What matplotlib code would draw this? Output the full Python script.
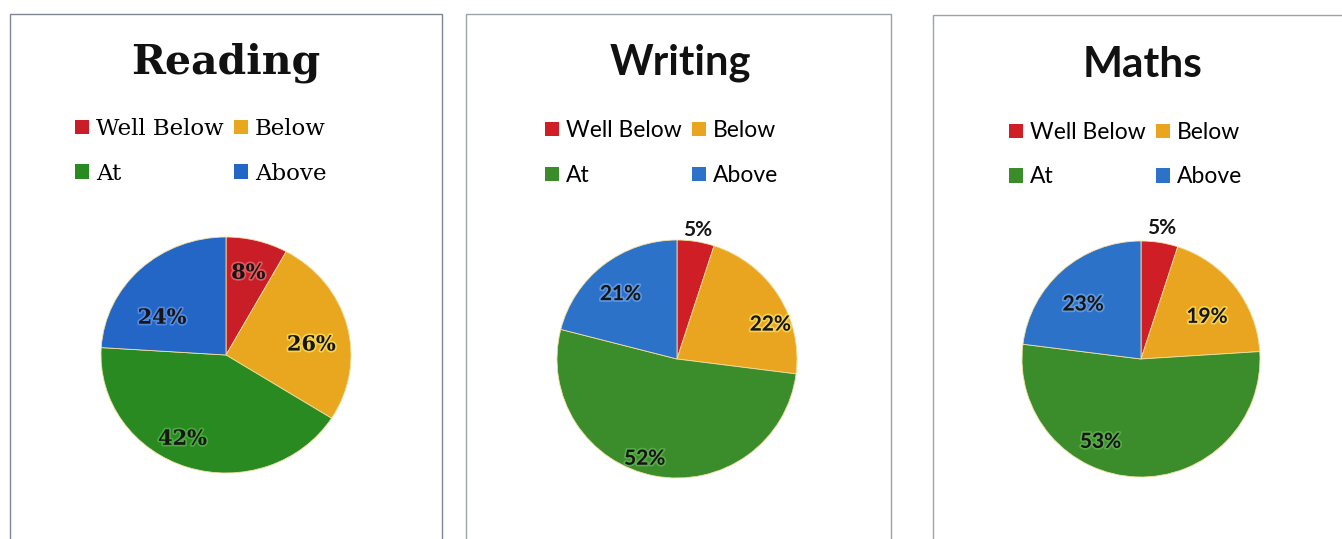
import matplotlib
matplotlib.use("Agg")
import matplotlib.pyplot as plt
from matplotlib.patches import Rectangle
import matplotlib.patheffects as pe
import numpy as np

# ---- data ----
categories = ["Well Below", "Below", "At", "Above"]
subjects = ["Reading", "Writing", "Maths"]
reading_values = [8, 26, 42, 24]
writing_values = [5, 22, 52, 21]
maths_values = [5, 19, 53, 23]

W, H = 1342, 539
fig = plt.figure(figsize=(W / 100, H / 100), dpi=100)
fig.patch.set_facecolor("white")

def fx(px):
    return px / W

def fy(py):
    return 1 - py / H

reading_colors = ["#C91D27", "#E9A61F", "#2A8A22", "#2466C6"]
other_colors = ["#D01E26", "#EAA520", "#3A8D2A", "#2C72C8"]
halo_reading = ["#F08080", "#FFF06A", "#5FBF50", "#6FA0F0"]
halo_other = ["#F08080", "#FFF06A", "#6FC060", "#7FB0F0"]

# label placement (style): radius fraction and angular nudge in degrees, per slice
panels = [
    dict(title=subjects[0], values=reading_values, colors=reading_colors, halo=halo_reading,
         family="DejaVu Serif", title_size=29.5, leg_size=16.5, lab_size=15,
         box=(10, 14, 442), center=(226, 355), r=(125, 118), title_xy=(226, 63),
         leg_xy=(75, 118), lab_r=[0.72, 0.69, 0.79, 0.60], lab_dth=[0, -7, -8, 15], lsp=1.0,
         box_col="#7d8590"),
    dict(title=subjects[1], values=writing_values, colors=other_colors, halo=halo_other,
         family="Lato", title_size=30, leg_size=16.5, lab_size=15,
         box=(466, 14, 891), center=(677, 359), r=(120, 119), title_xy=(680, 63),
         leg_xy=(545, 120), lab_r=[1.1, 0.83, 0.88, 0.72], lab_dth=[0, -12, -7, 3], lsp=1.05,
         box_col="#9aa2aa"),
    dict(title=subjects[2], values=maths_values, colors=other_colors, halo=halo_other,
         family="Lato", title_size=30.5, leg_size=16.5, lab_size=15,
         box=(933, 15, 1348), center=(1141, 359), r=(119, 118), title_xy=(1143, 65),
         leg_xy=(1009, 122), lab_r=[1.12, 0.66, 0.78, 0.67], lab_dth=[0, -5, -24, 5], lsp=1.02,
         box_col="#9aa2aa"),
]

for p in panels:
    x0, y0, x1 = p["box"]
    fig.patches.append(Rectangle((fx(x0), fy(H + 10)), fx(x1) - fx(x0), fy(y0) - fy(H + 10),
                                 transform=fig.transFigure, facecolor="white",
                                 edgecolor=p["box_col"], linewidth=1.0, zorder=-5))
    fig.text(fx(p["title_xy"][0]), fy(p["title_xy"][1]), p["title"], ha="center", va="center",
             fontsize=p["title_size"], fontweight="bold", family=p["family"], color="#111111")

    cx, cy = p["center"]
    rx, ry = p["r"]
    ax = fig.add_axes([fx(cx - rx), fy(cy + ry), fx(2 * rx), 2 * ry / H])
    ax.set_zorder(2)
    wedges, _ = ax.pie(p["values"], colors=p["colors"], startangle=90, counterclock=False,
                       radius=1, wedgeprops=dict(linewidth=0.6, edgecolor="#f4e0a0"))
    ax.set_aspect("auto")
    ax.set_xlim(-1, 1)
    ax.set_ylim(-1, 1)
    ax.axis("off")

    for w, v, rr, dth, hc in zip(wedges, p["values"], p["lab_r"], p["lab_dth"], p["halo"]):
        mid = np.deg2rad((w.theta1 + w.theta2) / 2 + dth)
        t = ax.text(rr * np.cos(mid), rr * np.sin(mid), f"{v}%", ha="center", va="center",
                    fontsize=p["lab_size"], fontweight="bold", family=p["family"],
                    color="#151515", clip_on=False)
        if rr < 1:
            t.set_path_effects([pe.withStroke(linewidth=2.5, foreground=hc, alpha=0.6)])

    order = [0, 2, 1, 3]
    leg = fig.legend([wedges[i] for i in order], [categories[i] for i in order], ncol=2,
                     loc="upper left", bbox_to_anchor=(fx(p["leg_xy"][0]), fy(p["leg_xy"][1])),
                     frameon=False, borderpad=0, borderaxespad=0, handlelength=0.62,
                     handleheight=0.62, handletextpad=0.3, columnspacing=0.45,
                     labelspacing=p["lsp"], prop=dict(family=p["family"], size=p["leg_size"]))
    for h in leg.legend_handles:
        h.set_edgecolor("none")

fig.savefig("out.png", dpi=100, facecolor="white")
